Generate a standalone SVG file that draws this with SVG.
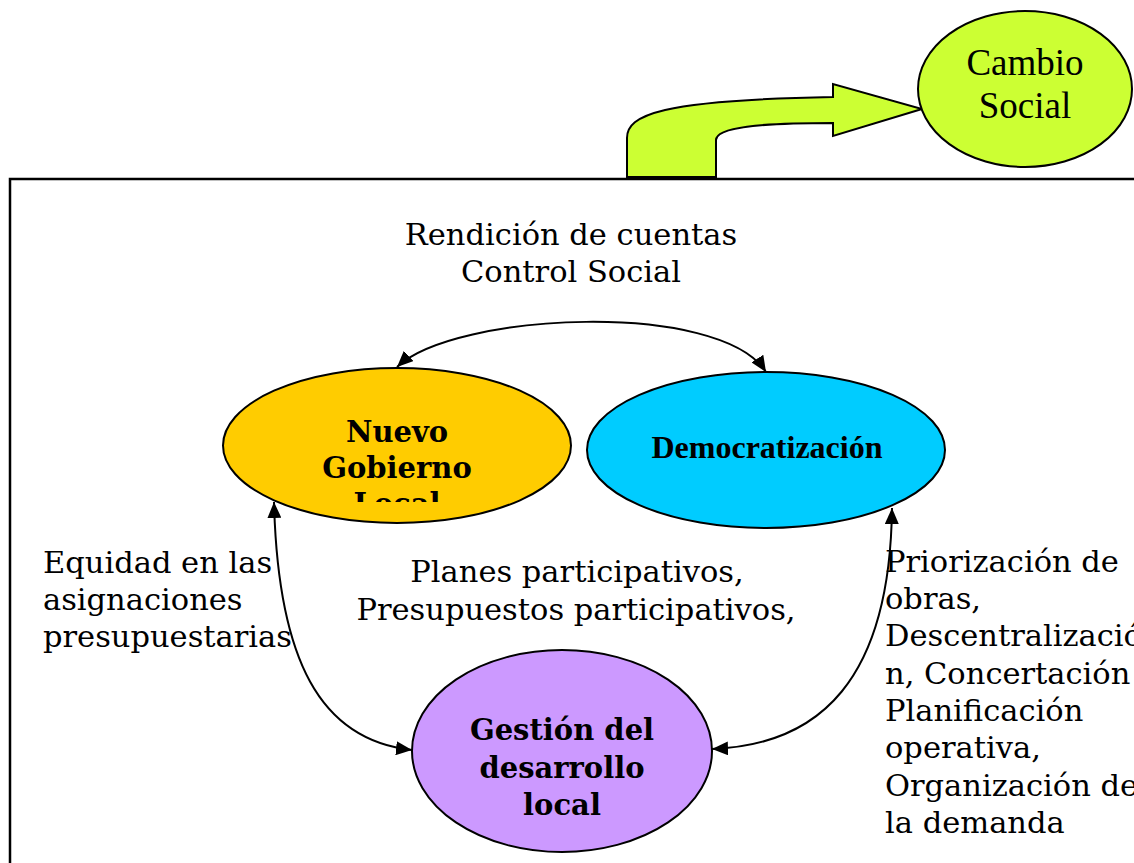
<svg xmlns="http://www.w3.org/2000/svg" width="1134" height="863" viewBox="0 0 1134 863">
<style>
.node{stroke:#000;stroke-width:2}
.lbl{font-family:"DejaVu Serif","Liberation Serif",serif;font-size:30.5px;fill:#000}
.bold{font-family:"DejaVu Serif","Liberation Serif",serif;font-weight:bold;font-size:29px;fill:#000}
.times{font-family:"Liberation Serif","Times New Roman",serif;fill:#000}
.conn{fill:none;stroke:#000;stroke-width:2}
</style>
<defs>
<marker id="arr" viewBox="0 0 16 14" refX="16" refY="7" markerWidth="16" markerHeight="14" markerUnits="userSpaceOnUse" orient="auto-start-reverse">
<path d="M0,0 L16,7 L0,14 Z" fill="#000"/>
</marker>
<clipPath id="clipNGL"><rect x="223" y="368" width="348" height="134"/></clipPath>
</defs>
<rect width="1134" height="863" fill="#fff"/>
<g id="frame">
<path d="M10,863 V179 H1134" fill="none" stroke="#000" stroke-width="2.5"/>
</g>
<g id="green-arrow">
<path d="M627,177 L627,138 C627,115 660,100 833,97 L833,84 L922,109 L833,136 L833,123 C760,123 716,127 716,140 L716,177 Z" fill="#ccff33" stroke="#000" stroke-width="2"/>
</g>
<g id="cambio-social">
<ellipse cx="1025" cy="89" rx="107" ry="78" fill="#ccff33" class="node"/>
<text class="times" font-size="37" text-anchor="middle"><tspan x="1025" y="75">Cambio</tspan><tspan x="1025" y="118">Social</tspan></text>
</g>
<g id="connectors">
<path class="conn" d="M397,367 C455,312 720,300 766,372" marker-start="url(#arr)" marker-end="url(#arr)"/>
<path class="conn" d="M274,502 C278,660 320,740 412,750" marker-start="url(#arr)" marker-end="url(#arr)"/>
<path class="conn" d="M892,508 C890,680 820,745 712,749" marker-start="url(#arr)" marker-end="url(#arr)"/>
</g>
<g id="nuevo-gobierno-local">
<ellipse cx="397" cy="445.5" rx="174" ry="77.5" fill="#ffcc00" class="node"/>
<g clip-path="url(#clipNGL)">
<text class="bold" text-anchor="middle"><tspan x="397" y="442">Nuevo</tspan><tspan x="397" y="478">Gobierno</tspan><tspan x="397" y="514">Local</tspan></text>
</g>
</g>
<g id="democratizacion">
<ellipse cx="766" cy="450" rx="179" ry="78" fill="#00ccff" class="node"/>
<text class="times" font-weight="bold" font-size="32" text-anchor="middle" x="767" y="458">Democratización</text>
</g>
<g id="gestion">
<ellipse cx="562" cy="751" rx="150" ry="101" fill="#cc99ff" class="node"/>
<text class="bold" text-anchor="middle"><tspan x="562" y="740">Gestión del</tspan><tspan x="562" y="778">desarrollo</tspan><tspan x="562" y="815">local</tspan></text>
</g>
<g id="labels">
<text class="lbl" text-anchor="middle"><tspan x="571" y="245">Rendición de cuentas</tspan><tspan x="571" y="282">Control Social</tspan></text>
<text class="lbl" text-anchor="middle"><tspan x="577" y="582">Planes participativos,</tspan><tspan x="576" y="620">Presupuestos participativos,</tspan></text>
<text class="lbl"><tspan x="43" y="573">Equidad en las</tspan><tspan x="43" y="610">asignaciones</tspan><tspan x="43" y="647">presupuestarias</tspan></text>
<text class="lbl"><tspan x="885" y="572">Priorización de</tspan><tspan x="885" y="609">obras,</tspan><tspan x="885" y="646">Descentralizació</tspan><tspan x="885" y="684">n, Concertación</tspan><tspan x="885" y="721">Planificación</tspan><tspan x="885" y="758">operativa,</tspan><tspan x="885" y="796">Organización de</tspan><tspan x="885" y="833">la demanda</tspan></text>
</g>
</svg>
